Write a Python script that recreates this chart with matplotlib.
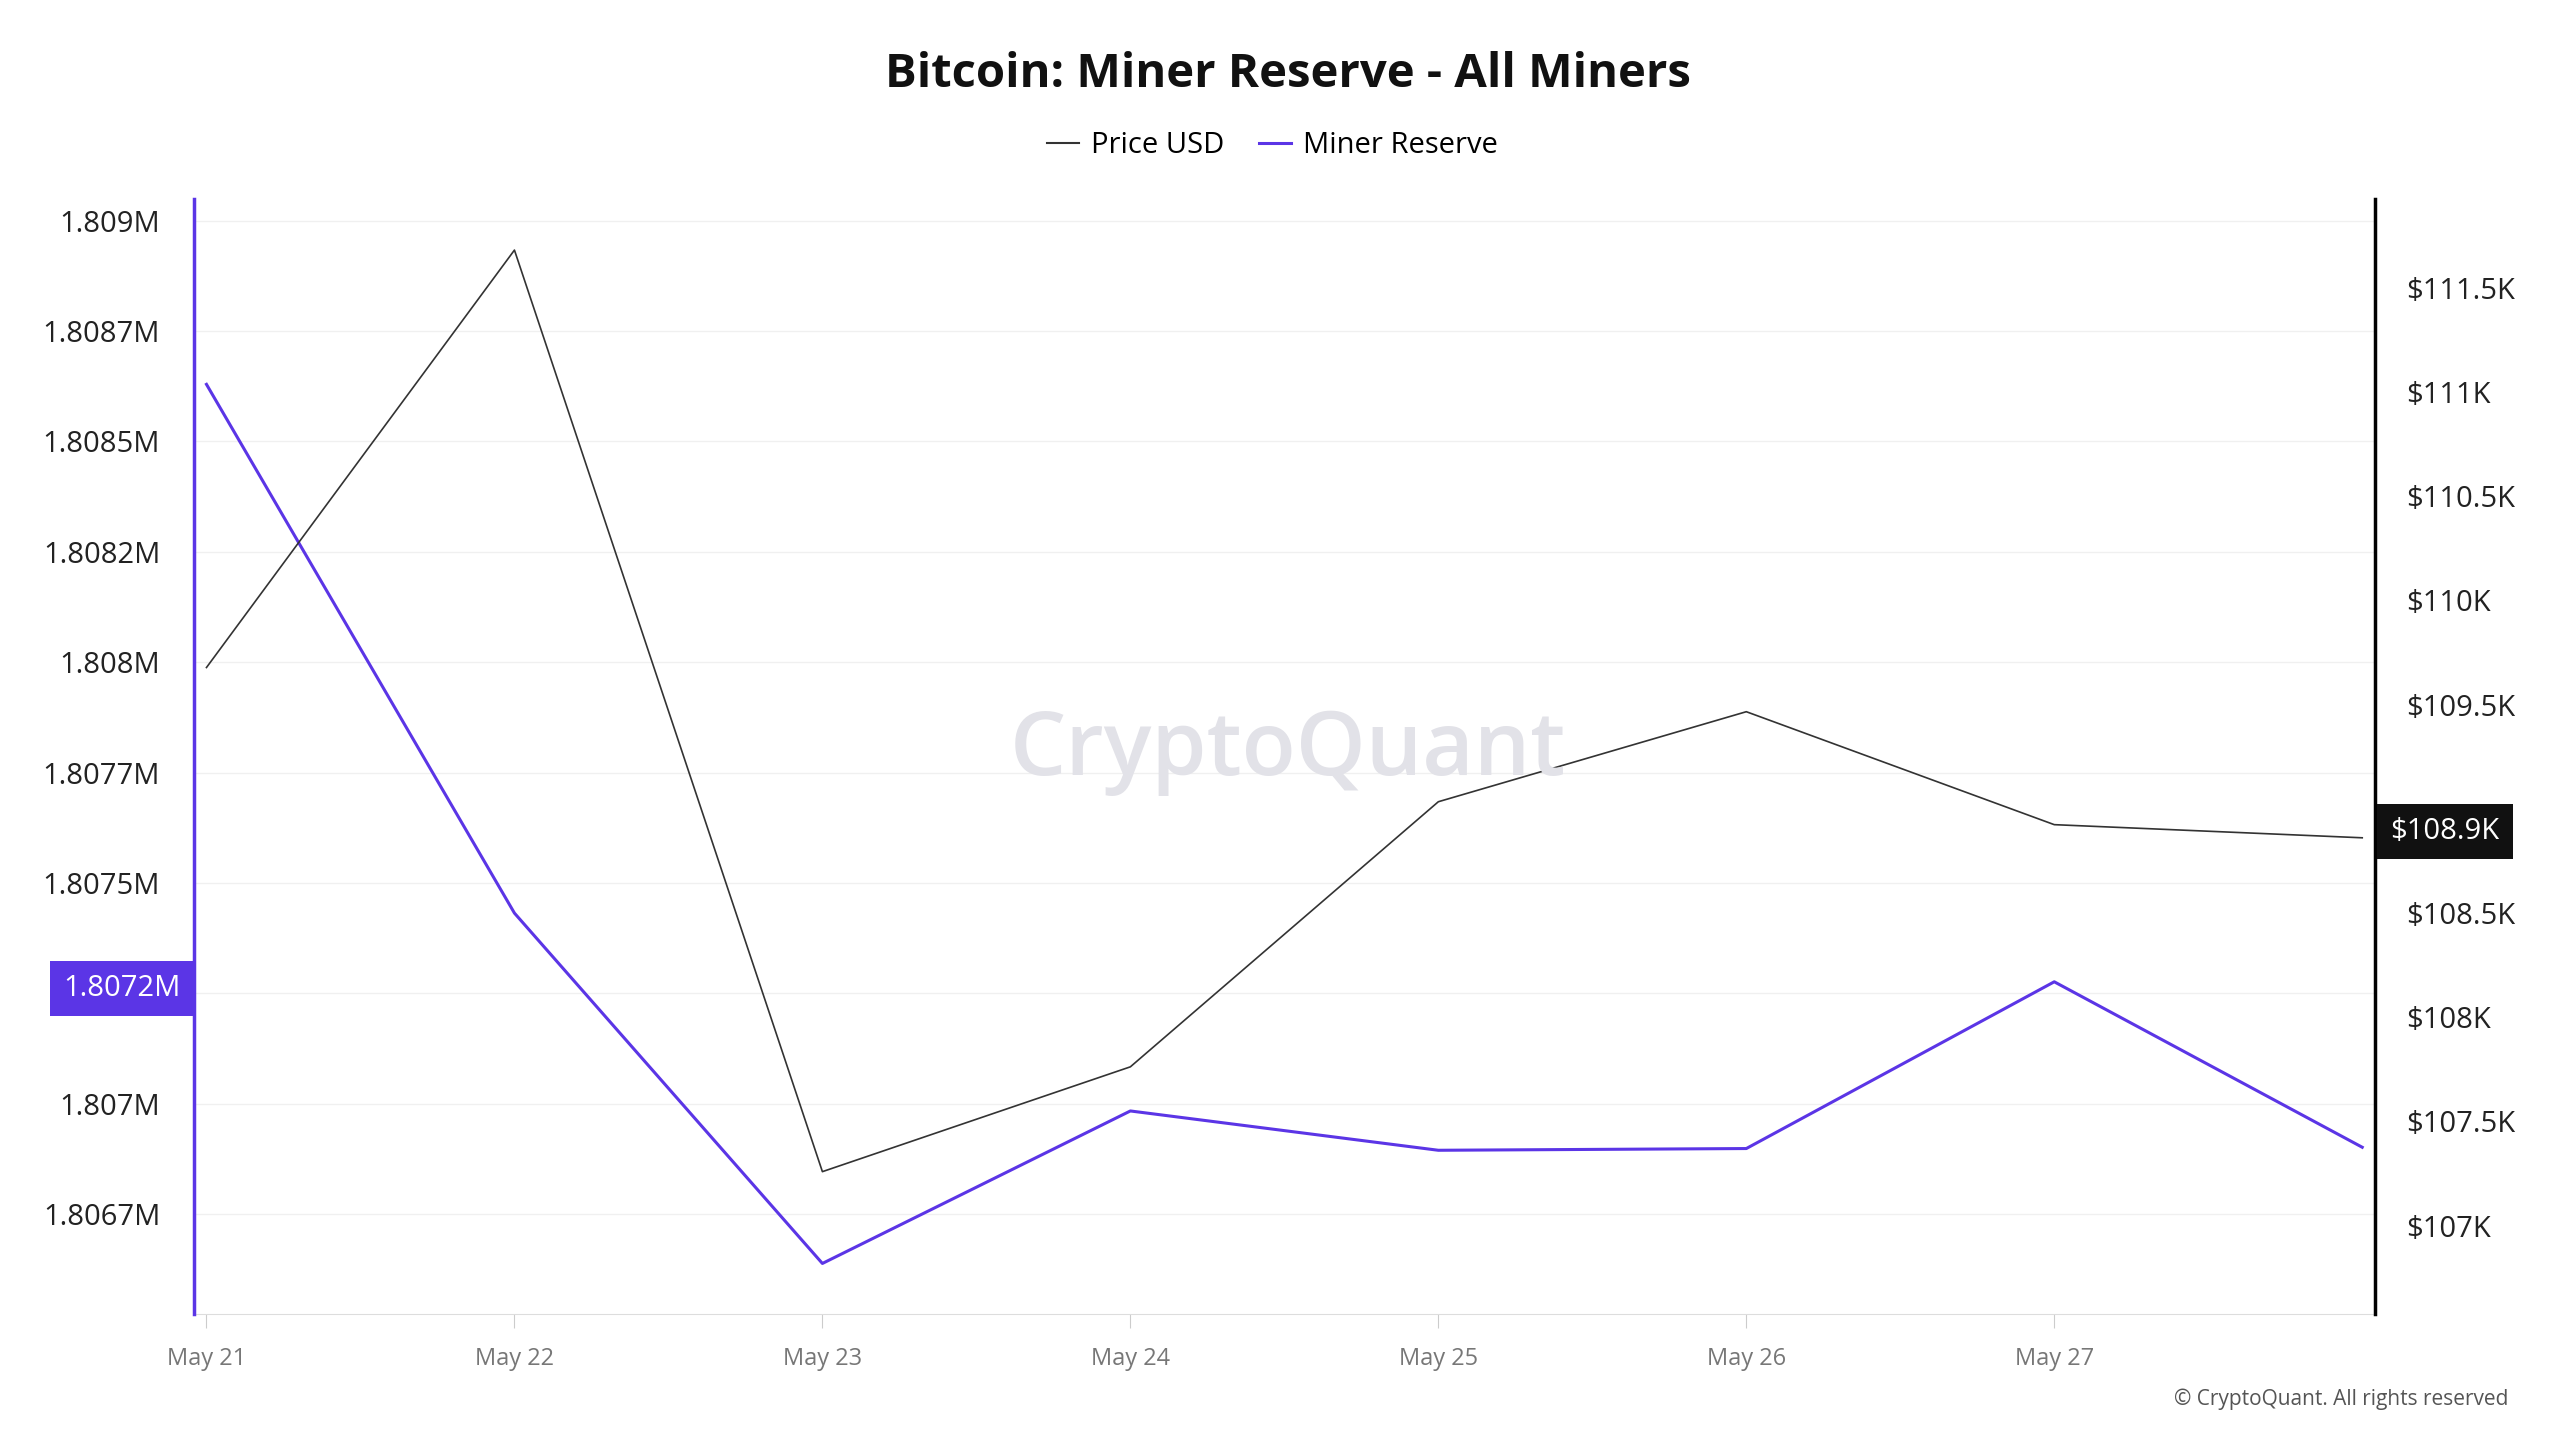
import numpy as np
import matplotlib
matplotlib.use("Agg")
from matplotlib import pyplot as plt

plt.rcParams["font.family"] = "Open Sans"

dates = ["May 21", "May 22", "May 23", "May 24", "May 25", "May 26", "May 27"]
reserve = [1808621, 1807397, 1806586, 1806939, 1806848, 1806852, 1807238, 1806855]
price = [109678, 111681, 107259, 107762, 109034, 109466, 108924, 108861]
left_ticks = np.linspace(1806700, 1809000, 10)
right_ticks = np.arange(107000, 111501, 500)

purple = "#5b35e6"
x = np.arange(len(reserve))

fig = plt.figure(figsize=(25.6, 14.4), dpi=100)
ax = fig.add_axes([0.0756, 0.0875, 0.8522, 0.774])
ax2 = ax.twinx()

ax.plot(x, reserve, color=purple, lw=2.2, zorder=3)
ax2.plot(x, price, color="#333333", lw=1.2, zorder=3)

ax.set_xlim(-0.042, 7.042)
ax.set_ylim(1806469, 1809049)
ax2.set_ylim(106576, 111924)

ax.set_xticks(range(len(dates)))
ax.set_xticklabels(dates, fontsize=17, color="#777777")
ax.tick_params(axis="x", length=10, color="#cccccc", pad=14)

def fmt_m(v):
    s = f"{v/1e6:.4f}".rstrip("0").rstrip(".")
    return s + "M"

left_labels = [fmt_m(v) for v in left_ticks]
left_labels[2] = ""
right_labels = [f"${v/1000:g}K" for v in right_ticks]
right_labels[4] = ""

ax.set_yticks(left_ticks)
ax.set_yticklabels(left_labels, fontsize=21, color="#222222")
ax.tick_params(axis="y", length=0, pad=24)
ax2.set_yticks(right_ticks)
ax2.set_yticklabels(right_labels, fontsize=21, color="#222222")
ax2.tick_params(axis="y", length=0, pad=22)

ax.grid(axis="y", color="#f0f0f0", lw=1)
ax.set_axisbelow(True)
ax.spines["top"].set_visible(False)
ax2.spines["top"].set_visible(False)
ax.spines["right"].set_visible(False)
ax2.spines["left"].set_color(purple)
ax2.spines["left"].set_linewidth(2.5)
ax2.spines["right"].set_color("black")
ax2.spines["right"].set_linewidth(2.5)
ax.spines["bottom"].set_color("#dddddd")
ax2.spines["bottom"].set_visible(False)

# highlight labels
ax.text(-0.006, reserve[6] - 15, "1.8072M", transform=ax.get_yaxis_transform(),
        ha="right", va="center", fontsize=21, color="white",
        bbox=dict(boxstyle="square,pad=0.45", fc=purple, ec="none"), zorder=5,
        clip_on=False)
ax2.text(1.007, price[-1] + 30, "$108.9K", transform=ax2.get_yaxis_transform(),
         ha="left", va="center", fontsize=21, color="white",
         bbox=dict(boxstyle="square,pad=0.45", fc="#111111", ec="none"),
         zorder=5, clip_on=False)

fig.text(0.503, 0.478, "CryptoQuant", fontsize=64, color="#e2e2e8",
         fontweight="semibold", ha="center", va="center", zorder=0)

fig.text(0.503, 0.948, "Bitcoin: Miner Reserve - All Miners", fontsize=34,
         fontweight="bold", ha="center", va="center", color="#111111")
fig.legend(handles=[plt.Line2D([], [], color="#333333", lw=1.5),
                    plt.Line2D([], [], color=purple, lw=2.2)],
           labels=["Price USD", "Miner Reserve"], loc="center",
           bbox_to_anchor=(0.497, 0.899), ncol=2, frameon=False, fontsize=21,
           handlelength=1.1, columnspacing=1.2, handletextpad=0.4)
fig.text(0.98, 0.028, "© CryptoQuant. All rights reserved", fontsize=15,
         ha="right", va="center", color="#555555")

fig.savefig("out.png", dpi=100, facecolor="white")
